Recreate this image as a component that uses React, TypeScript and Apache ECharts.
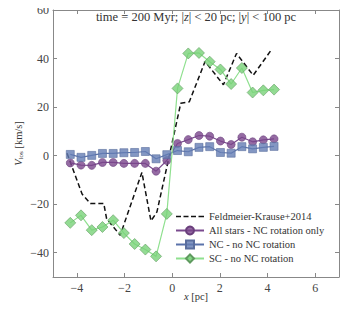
import React, { useEffect, useRef } from "react";
import * as echarts from "echarts";

const binX = [-4.275, -3.825, -3.375, -2.925, -2.475, -2.025, -1.575, -1.125, -0.675, -0.225, 0.225, 0.675, 1.125, 1.575, 2.025, 2.475, 2.925, 3.375, 3.825, 4.275];
const allStars = [-3.0, -3.9, -4.0, -2.8, -2.8, -3.2, -3.2, -3.2, -6.4, -2.0, 5.0, 6.6, 8.3, 8.0, 6.0, 4.6, 7.6, 5.7, 6.5, 6.9];
const ncNoRot = [0.5, -0.7, 0.1, 0.9, 0.9, 1.2, 1.3, 1.7, -1.3, 0.4, 2.1, 1.6, 3.4, 3.7, 1.3, 1.0, 3.7, 2.8, 3.4, 3.8];
const scNoRot = [-27.7, -24.6, -30.7, -29.4, -26.6, -31.9, -36.4, -38.7, -41.5, -24.0, 27.7, 42.1, 42.3, 38.7, 35.5, 29.5, 36.1, 26.0, 26.9, 27.2];
const fkX = [-4.41, -3.78, -3.43, -2.87, -2.75, -2.18, -1.27, -0.89, -0.64, -0.15, 0.36, 0.72, 1.38, 2.15, 2.7, 3.4, 4.17];
const fkY = [1.0, -15.8, -19.7, -19.7, -26.0, -32.8, -6.9, -26.9, -23.2, -1.4, 21.6, 22.2, 38.8, 29.2, 42.1, 33.1, 43.7];

const seriesNames = ["Feldmeier-Krause+2014", "All stars - NC rotation only", "NC - no NC rotation", "SC - no NC rotation"];
const titleText = "time = 200 Myr; |{i|z}| < 20 pc; |{i|y}| < 100 pc";

const FONT = "Liberation Serif";
const TXT = "#333";
const AX = "#888";

const DASH_ICON =
  "path://M0,0h0.01v0.01h-0.01z M0,4.3h5v1.4h-5z M7.5,4.3h5v1.4h-5z M15,4.3h5v1.4h-5z M22.5,4.3h5.5v1.4h-5.5z M27.99,9.99h0.01v0.01h-0.01z";

const pairs = (xs: number[], ys: number[]) => xs.map((x, i) => [x, ys[i]]);
const fmt = (step: number) => (v: number) =>
  Math.abs(v / step - Math.round(v / step)) > 1e-6 ? "" : String(v).replace("-", "\u2212");

export default function App() {
  const ref = useRef<HTMLDivElement>(null);
  useEffect(() => {
    if (!ref.current) return;
    const chart = echarts.init(ref.current, null, { renderer: "svg" });
    const axisCommon = {
      axisLine: { show: true, onZero: false, lineStyle: { color: AX, width: 1 } },
      axisTick: { show: true, inside: true, length: 4, lineStyle: { color: AX } },
      splitLine: { show: false },
    };
    chart.setOption({
      animation: false,
      backgroundColor: "#fff",
      textStyle: { fontFamily: FONT },
      graphic: [
        {
          type: "text",
          x: 196,
          y: 17,
          style: {
            text: titleText,
            align: "center",
            verticalAlign: "middle",
            fontFamily: FONT,
            fontSize: 12.5,
            fill: TXT,
            rich: { i: { fontStyle: "italic", fontFamily: FONT, fontSize: 12.5, fill: TXT } },
          },
        },
      ],
      grid: { left: 53, right: 18, top: 10, bottom: 38 },
      legend: {
        orient: "vertical",
        left: 170,
        top: 206,
        itemWidth: 28,
        itemHeight: 10,
        itemGap: 3,
        data: [
          { name: seriesNames[0], icon: DASH_ICON, itemStyle: { color: "#111" } },
          seriesNames[1],
          seriesNames[2],
          seriesNames[3],
        ],
        textStyle: { fontFamily: FONT, fontSize: 10.5, color: TXT },
      },
      xAxis: [
        {
          type: "value",
          min: -5,
          max: 7,
          minInterval: 2,
          maxInterval: 2,
          ...axisCommon,
          axisLabel: { formatter: fmt(2), fontFamily: FONT, fontSize: 12, color: "#444", margin: 5 },
          name: "{i|x} [pc]",
          nameLocation: "middle",
          nameGap: 14,
          nameMoveOverlap: false,
          nameTextStyle: {
            fontFamily: FONT,
            fontSize: 10.5,
            color: TXT,
            rich: { i: { fontStyle: "italic", fontFamily: FONT, fontSize: 10.5, color: TXT } },
          },
        },
        {
          type: "value",
          position: "top",
          min: -5,
          max: 7,
          minInterval: 2,
          maxInterval: 2,
          ...axisCommon,
          axisLabel: { show: false },
        },
      ],
      yAxis: [
        {
          type: "value",
          min: -50,
          max: 60,
          minInterval: 20,
          maxInterval: 20,
          ...axisCommon,
          axisLabel: { formatter: fmt(20), fontFamily: FONT, fontSize: 12, color: "#444", margin: 4 },
          name: "{i|V}{s|los} [km/s]",
          nameLocation: "middle",
          nameRotate: 90,
          nameGap: 29,
          nameMoveOverlap: false,
          nameTextStyle: {
            fontFamily: FONT,
            fontSize: 10.5,
            color: TXT,
            rich: {
              i: { fontStyle: "italic", fontFamily: FONT, fontSize: 10.5, color: TXT },
              s: { fontFamily: FONT, fontSize: 7, color: TXT, padding: [5, 0, 0, 0] },
            },
          },
        },
        {
          type: "value",
          position: "right",
          min: -50,
          max: 60,
          minInterval: 20,
          maxInterval: 20,
          ...axisCommon,
          axisLabel: { show: false },
        },
      ],
      series: [
        {
          name: seriesNames[0],
          type: "line",
          data: pairs(fkX, fkY),
          symbol: "none",
          z: 2,
          lineStyle: { color: "#111", width: 1.5, type: [5, 3] },
          itemStyle: { color: "#111" },
        },
        {
          name: seriesNames[1],
          type: "line",
          data: pairs(binX, allStars),
          symbol: "circle",
          symbolSize: 8,
          z: 3,
          lineStyle: { color: "#7a4a8e", width: 1.2 },
          itemStyle: { color: "rgba(122,70,140,0.8)", borderColor: "#6a3f7c", borderWidth: 0.6 },
        },
        {
          name: seriesNames[2],
          type: "line",
          data: pairs(binX, ncNoRot),
          symbol: "rect",
          symbolSize: 8,
          z: 4,
          lineStyle: { color: "#5a72aa", width: 1.2 },
          itemStyle: { color: "rgba(100,125,180,0.8)", borderColor: "#5a6e9e", borderWidth: 0.6 },
        },
        {
          name: seriesNames[3],
          type: "line",
          data: pairs(binX, scNoRot),
          symbol: "diamond",
          symbolSize: 11,
          z: 5,
          lineStyle: { color: "#8fe08f", width: 1.2 },
          itemStyle: { color: "rgba(120,210,120,0.8)", borderColor: "#5f9a5f", borderWidth: 0.6 },
        },
      ],
    });
    return () => chart.dispose();
  }, []);
  return <div ref={ref} style={{ width: 357, height: 315, margin: -8 }} />;
}
